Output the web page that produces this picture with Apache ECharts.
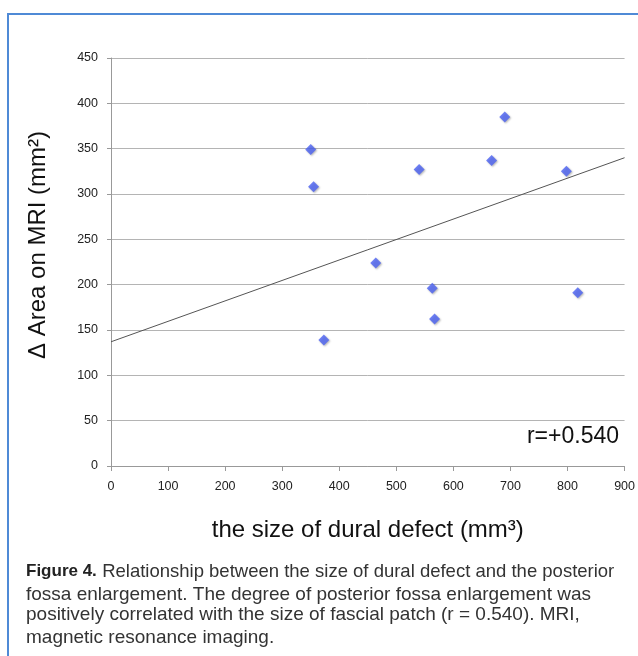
<!DOCTYPE html>
<html>
<head>
<meta charset="utf-8">
<script src="https://cdn.jsdelivr.net/npm/echarts@6/dist/echarts.min.js"></script>
<style>
  html, body { margin: 0; padding: 0; background: #fff; }
  #chart { width: 638px; height: 656px; }
</style>
</head>
<body>
<div id="chart"></div>
<script>
// dural defect size (mm3) vs change in area on MRI (mm2)
var defectSize = [350, 355, 373, 464, 540, 563, 567, 667, 690, 798, 818]
var areaChange = [349, 308, 139, 224, 327, 196, 162, 337, 385, 325, 191]
// linear trend line end points
var trendX = [0, 900]
var trendY = [137, 340]
var captionLines = [
  'fossa enlargement. The degree of posterior fossa enlargement was',
  'positively correlated with the size of fascial patch (r = 0.540). MRI,',
  'magnetic resonance imaging.'
]

var points = []
for (var i = 0; i < defectSize.length; i++) {
  points.push([defectSize[i], areaChange[i]])
}
var trend = []
for (var j = 0; j < trendX.length; j++) {
  trend.push([trendX[j], trendY[j]])
}

var font = 'Liberation Sans, Arial, sans-serif'
var chart = echarts.init(document.getElementById('chart'))

var graphics = [
  {
    type: 'polyline',
    shape: { points: [[8, 656], [8, 14], [638, 14]] },
    style: { stroke: '#4f8ad6', lineWidth: 2, fill: null },
    silent: true
  },
  {
    // y axis title, drawn by hand so it can sit a bit above the middle
    type: 'text',
    x: 38,
    y: 245,
    rotation: Math.PI / 2,
    style: {
      text: 'Δ Area on MRI (mm²)',
      font: '24px ' + font,
      fill: '#111',
      align: 'center',
      verticalAlign: 'middle'
    }
  },
  {
    type: 'text',
    left: 26,
    top: 562,
    style: {
      text: '{b|Figure 4.} {r|Relationship between the size of dural defect and the posterior}',
      font: '19px ' + font,
      fill: '#333',
      rich: {
        b: { fontWeight: 'bold', fontSize: 17, fontFamily: font, fill: '#222' },
        r: { fontSize: 18.5, fontFamily: font, fill: '#333' }
      }
    }
  },
  {
    type: 'text',
    left: 26,
    top: 585,
    style: { text: captionLines[0], font: '19px ' + font, fill: '#333' }
  },
  {
    type: 'text',
    left: 26,
    top: 605,
    style: { text: captionLines[1], font: '19px ' + font, fill: '#333' }
  },
  {
    type: 'text',
    left: 26,
    top: 628,
    style: { text: captionLines[2], font: '19px ' + font, fill: '#333' }
  },
  {
    type: 'text',
    right: 19,
    top: 425,
    style: { text: 'r=+0.540', font: '23px ' + font, fill: '#111' }
  }
]

var option = {
  animation: false,
  backgroundColor: '#fff',
  grid: {
    left: 111,
    right: 9,
    top: 58,
    bottom: 190
  },
  xAxis: {
    type: 'value',
    min: 0,
    max: 900,
    interval: 100,
    name: 'the size of dural defect (mm³)',
    nameLocation: 'middle',
    nameGap: 52,
    nameTextStyle: { fontSize: 24, fontFamily: font, color: '#111' },
    axisLine: { show: true, lineStyle: { color: '#999' } },
    axisTick: { show: true, length: 5, lineStyle: { color: '#999' } },
    axisLabel: { fontSize: 12.5, fontFamily: font, color: '#222', margin: 14 },
    splitLine: { show: false }
  },
  yAxis: {
    type: 'value',
    min: 0,
    max: 450,
    interval: 50,
    axisLine: { show: true, lineStyle: { color: '#999' } },
    axisTick: { show: true, length: 4, lineStyle: { color: '#999' } },
    axisLabel: { fontSize: 12.5, fontFamily: font, color: '#222', margin: 13 },
    splitLine: { show: true, lineStyle: { color: '#b4b4b4', width: 1 } }
  },
  series: [
    {
      type: 'line',
      data: trend,
      symbol: 'none',
      lineStyle: { color: '#555', width: 1 },
      silent: true,
      z: 2
    },
    {
      type: 'scatter',
      data: points,
      symbol: 'diamond',
      symbolSize: 11,
      itemStyle: {
        color: '#4b62f2',
        shadowColor: 'rgba(0,0,0,0.35)',
        shadowBlur: 2,
        shadowOffsetX: 1,
        shadowOffsetY: 1
      },
      z: 3
    }
  ],
  graphic: graphics
}

chart.setOption(option)
</script>
</body>
</html>
